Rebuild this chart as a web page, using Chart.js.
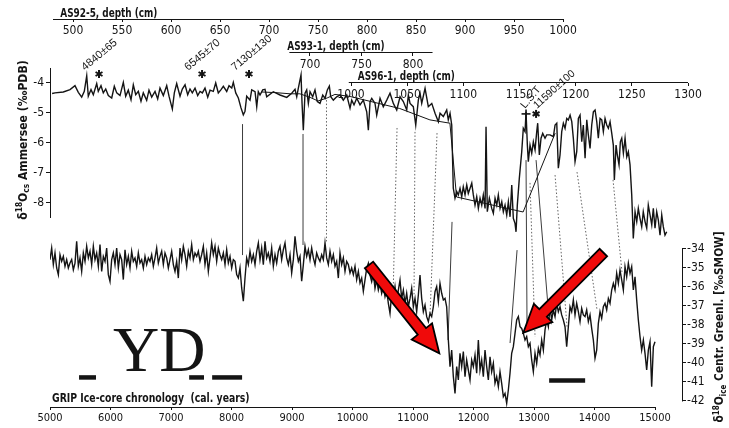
<!DOCTYPE html>
<html>
<head>
<meta charset="utf-8">
<script src="https://cdn.jsdelivr.net/npm/chart.js@4.4.1/dist/chart.umd.min.js"></script>
<style>
  html, body { margin: 0; padding: 0; background: #fff; }
  canvas { display: block; }
</style>
</head>
<body>
<canvas id="chart" width="729" height="428" style="width:729px;height:428px"></canvas>
<script>
// Ammersee d18O (permil PDB) placed on the GRIP time scale
const ammYears = [5035,5083,5220,5331,5413,5468,5524,5567,5607,5633,5678,5716,5772,5798,5843,5881,5921,5964,6020,6063,6103,
  6157,6212,6251,6294,6339,6377,6417,6460,6504,6542,6598,6636,6681,6736,6780,6818,6873,6929,6967,7022,
  7055,7094,7149,7187,7232,7276,7314,7352,7397,7441,7480,7518,7562,7607,7645,7699,7739,7782,7827,7865,
  7921,7959,8004,8030,8070,8113,8157,8195,8223,8251,
  8306,8334,8389,8417,8443,8471,8516,8554,8582,8691,8802,8913,8995,9050,9078,9104,9149,9166,9187,9215,
  9243,9270,9298,9342,9380,9418,9463,9508,9546,9584,9617,9640,9683,9739,9794,9848,9904,9959,9987,10025,
  10070,10124,10179,10235,10262,10290,10318,10372,10400,10455,10509,10566,10620,10675,10731,10786,10840,10896,10923,10951,
  11005,11045,11088,11116,11144,11199,11253,11310,11364,11419,11447,11501,11557,11583,11612,11640,
  11666,11694,11722,11749,11777,11805,11831,11860,11888,11914,11943,11971,11997,12025,12053,12080,12108,12136,12162,12191,
  12207,12228,12262,12301,12328,12356,12384,12410,12439,12467,12493,12521,12549,12576,12604,12632,12658,12686,12703,
  12724,12757,12797,12823,12852,12868,12890,12906,12934,12962,12989,13017,13045,13061,13088,13116,13144,13182,13210,13265,
  13320,13348,13376,13402,13430,13458,13485,13513,13541,13567,13596,13624,13650,13678,13706,13733,13761,13789,13815,13844,
  13872,13898,13926,13954,13981,14009,14037,14063,14092,14120,14146,14174,14202,14229,14257,14285,14311,14328,14356,14377,
  14405,14427,14450,14477,14505,14533,14559,14587,14615,
  14641,14670,14698,14724,14752,14780,14806,14835,14863,14889,14918,14946,14972,15000,15028,15055,15083,15111,15137,15165,15193];
const ammValues = [-4.35,-4.33,-4.30,-4.22,-4.09,-4.31,-4.47,-4.28,-3.76,-4.44,-4.22,-4.39,-4.02,-4.28,-4.09,-4.33,-4.20,-4.42,-4.50,-4.11,-4.33,
  -4.42,-3.98,-4.44,-4.24,-4.56,-4.06,-4.39,-4.28,-4.61,-4.33,-4.58,-4.24,-4.47,-4.28,-4.53,-4.17,-4.42,-4.09,-4.44,-4.87,
  -4.33,-4.02,-4.44,-4.20,-4.06,-4.39,-4.20,-4.33,-4.17,-4.42,-4.28,-4.33,-4.17,-4.47,-4.24,-4.28,-4.00,-4.33,-4.22,-4.11,
  -4.28,-4.09,-4.17,-3.98,-4.33,-4.50,-4.83,-5.06,-4.94,-4.44,
  -4.57,-4.23,-4.29,-4.79,-4.29,-4.40,-4.23,-4.21,-4.46,-4.29,-4.40,-4.48,-4.34,-4.21,-4.46,-4.18,-3.73,-4.68,-5.57,-4.34,
  -4.23,-4.68,-4.29,-4.46,-4.23,-4.62,-4.68,-4.40,-4.51,-4.23,-4.10,-4.46,-4.57,-4.46,-4.40,-4.57,-4.40,-4.84,-4.57,-4.73,
  -4.51,-4.73,-4.57,-4.96,-5.57,-4.62,-4.51,-4.68,-5.07,-4.51,-4.79,-4.57,-4.34,-4.68,-4.90,-4.46,-4.62,-4.90,-4.40,-4.68,
  -4.79,-5.40,-4.57,-4.34,-4.68,-4.18,-4.79,-4.68,-5.01,-5.29,-5.01,-5.12,-4.90,-5.23,-5.01,-5.40,
  -7.51,-7.84,-7.62,-7.73,-7.51,-7.79,-7.46,-7.73,-7.40,-7.68,-7.51,-7.34,-7.73,-8.07,-7.79,-8.18,-7.84,-8.07,-7.73,-8.18,
  -5.46,-8.29,-7.84,-8.18,-8.34,-7.84,-8.07,-7.73,-8.18,-7.96,-8.29,-8.07,-8.40,-7.96,-8.46,-7.40,-8.51,-8.68,-8.96,
  -8.07,-7.18,-6.29,-5.51,-5.62,-4.96,-6.07,-6.62,-6.07,-6.34,-5.96,-6.23,-5.62,-5.34,-6.40,-5.84,-5.68,-5.84,-5.73,-5.73,
  -5.79,-5.40,-5.34,-6.84,-6.40,-5.62,-5.34,-5.51,-5.18,-5.23,-5.07,-5.29,-5.84,-6.62,-6.29,-5.18,-5.07,-5.96,-5.40,-6.51,
  -5.23,-5.73,-6.18,-5.40,-4.96,-4.90,-5.29,-5.84,-5.18,-5.23,-5.62,-5.18,-5.40,-5.51,-5.29,-5.68,-6.07,-7.23,-6.07,-6.40,
  -6.73,-5.96,-5.84,-6.34,-5.84,-6.46,-6.29,-6.73,-7.73,
  -9.18,-8.29,-8.62,-8.18,-8.51,-8.79,-8.29,-8.62,-8.84,-8.07,-8.40,-8.73,-8.18,-8.84,-8.29,-8.57,-9.07,-8.40,-8.79,-9.07,-8.96];

// coarser AS93-1 record drawn on top
const as93Years = [8500,8720,8970,9130,9300,9430,9580,9710,9960,10780,11280,11610,11720,12820,13350];
const as93Values = [-4.30,-4.32,-4.36,-4.36,-4.48,-4.60,-4.50,-4.38,-4.45,-4.85,-5.23,-5.34,-7.80,-8.30,-5.67];

// GRIP d18O ice (permil SMOW), evenly spaced from 5000 to 15000 cal. years
const GRIP_FIRST = 5000, GRIP_LAST = 15000;
const gripIce = [-34.56,-33.95,-34.82,-34.21,-35.00,-35.35,-34.30,-34.65,-34.39,-34.91,
  -34.56,-35.00,-34.74,-34.56,-35.09,-34.74,-33.60,-34.91,-34.47,-35.18,
  -34.21,-34.65,-33.86,-34.47,-34.12,-34.82,-33.86,-34.56,-34.21,-34.91,
  -33.77,-35.18,-34.39,-34.65,-33.95,-35.35,-35.70,-34.56,-34.21,-34.82,
  -33.95,-35.00,-34.30,-34.56,-35.61,-34.04,-34.82,-34.39,-35.00,-34.12,
  -34.65,-34.47,-34.91,-34.21,-34.74,-34.56,-35.00,-34.39,-34.82,-34.47,
  -34.65,-34.30,-34.91,-34.47,-33.95,-34.74,-34.39,-34.12,-34.82,-34.21,
  -34.47,-35.00,-34.56,-34.12,-34.82,-35.18,-34.65,-35.53,-33.95,-34.56,
  -33.86,-34.30,-34.91,-34.12,-34.47,-33.77,-34.56,-34.21,-34.39,-34.12,
  -34.65,-34.30,-33.86,-34.82,-34.21,-35.18,-34.47,-33.68,-34.30,-33.86,
  -34.65,-33.95,-34.30,-34.56,-34.21,-34.82,-34.04,-34.74,-34.39,-35.00,
  -34.56,-34.65,-35.35,-35.53,-35.00,-36.05,-36.75,-35.53,-34.47,-34.82,
  -34.12,-34.65,-34.30,-34.82,-34.12,-33.68,-34.56,-33.95,-34.82,-33.60,
  -34.47,-34.21,-34.65,-33.95,-34.91,-34.30,-34.74,-34.12,-33.86,-34.56,
  -34.04,-33.68,-34.47,-34.82,-34.30,-35.26,-34.56,-33.33,-34.12,-34.65,
  -34.39,-35.70,-34.82,-33.86,-34.39,-34.04,-34.56,-33.95,-34.47,-34.82,
  -34.21,-34.47,-34.65,-34.30,-34.56,-33.68,-34.47,-34.82,-34.12,-34.65,
  -34.30,-34.91,-34.65,-35.53,-34.21,-34.82,-34.47,-35.18,-34.65,-34.82,
  -35.26,-35.00,-35.35,-34.91,-35.61,-35.18,-35.79,-35.53,-36.23,
  -35.63,-35.02,-34.75,-35.37,-35.72,-35.28,-36.07,-35.63,-36.16,-35.81,
  -36.33,-35.98,-36.51,-36.16,-36.86,-37.39,-36.33,-36.60,-35.98,-36.77,
  -36.16,-35.63,-36.60,-36.16,-36.86,-36.33,-37.04,-36.60,-36.07,-37.04,
  -36.60,-37.30,-36.42,-35.37,-36.60,-37.30,-36.95,-37.56,-37.82,-37.39,
  -37.56,-37.04,-36.25,-35.98,-36.77,-35.81,-36.33,-36.68,-36.60,-37.04,
  -38.79,-40.19,-39.32,-40.72,-41.60,-40.19,-40.89,-39.49,-40.19,-39.40,
  -40.72,-39.84,-40.37,-40.89,-39.84,-40.19,-39.58,-40.54,-38.79,-40.37,
  -39.84,-40.72,-39.32,-40.19,-40.89,-39.67,-40.46,-40.02,-41.07,-40.72,
  -41.25,-40.46,-41.07,-41.77,-41.60,-42.12,-41.42,-40.54,-39.49,-39.14,
  -38.44,-37.74,-37.56,-38.09,-38.18,-38.44,-38.79,-38.61,-39.14,-38.96,
  -39.84,-40.46,-39.49,-40.02,-39.23,-39.58,-38.79,-39.32,-38.26,-37.74,
  -38.09,-37.04,-37.74,-37.21,-37.56,-36.86,-37.30,-37.04,-37.47,-37.74,
  -38.09,-39.14,-38.09,-37.04,-37.30,-36.68,-37.47,-36.86,-37.30,-37.82,
  -37.12,-37.47,-37.56,-37.21,-37.82,-37.47,-38.18,-38.79,-39.75,-39.32,
  -37.91,-37.30,-37.65,-37.04,-36.86,-37.21,-36.60,-36.86,-36.16,-35.81,
  -36.16,-35.28,-35.81,-35.11,-35.63,-36.16,-34.93,-35.46,-34.75,-35.28,
  -34.93,-36.16,-35.46,-36.68,-37.74,-38.61,-39.32,-38.79,-39.49,-40.37,
  -39.32,-38.88,-41.25,-39.14,-38.88];
const gripYears = gripIce.map((_, i) => GRIP_FIRST + i * (GRIP_LAST - GRIP_FIRST) / (gripIce.length - 1));

// tick labels
const gripTicks = [5000,6000,7000,8000,9000,10000,11000,12000,13000,14000,15000];
const ammTicks = [-4,-5,-6,-7,-8];
const iceTicks = [-34,-35,-36,-37,-38,-39,-40,-41,-42];
const as92Ticks = [500,550,600,650,700,750,800,850,900,950,1000];
const as93Ticks = [700,750,800];
const as96Ticks = [1000,1050,1100,1150,1200,1250,1300];

// tie lines between the two records (top end on Ammersee, bottom end on GRIP)
const tieYearTop = [8182,9182,9570,10736,11033,11397,11645,12720,12868,12934,13034,13348,13711,14306];
const tieAmm = [-5.37,-5.70,-4.57,-5.50,-5.63,-5.67,-8.63,-9.57,-6.57,-7.33,-6.57,-7.07,-6.97,-7.23];
const tieYearBottom = [8182,9182,9570,10670,11017,11281,11579,12604,12885,13017,13232,13546,14042,14455];
const tieIce = [-34.32,-33.79,-33.60,-36.58,-36.47,-37.53,-38.79,-38.95,-38.26,-38.63,-37.05,-38.10,-37.21,-35.26];
const tieDotted = [0,0,1,1,1,1,0,0,0,1,0,1,1,1];

// dated levels
const datedYears = [5810,7513,8289];
const datedLabels = ['4840\u00b165','6545\u00b170','7130\u00b1130'];
const lstYear = 12868, lstDatedYear = 13034, markLevel = -3.7, lstLevel = -5.03;

// cold-event bars and arrows
const coldBarStart = [5480,7300,7680,13250];
const coldBarEnd = [5760,7545,8175,13845];
const coldBarLevel = [-40.76,-40.76,-40.76,-40.92];
const arrowTail = [[10273,-34.84],[14146,-34.19]];
const arrowTip = [[11435,-39.49],[12823,-38.41]];

const INK = '#141414';
const NARROW = '"Liberation Sans Narrow", "Arial Narrow", "DejaVu Sans Condensed", sans-serif';
const SANS = '"Liberation Sans", Arial, sans-serif';

function fixedTicks(list) {
  return function(scale) { scale.ticks = list.map(v => ({ value: v })); };
}

function depthAxis(list, min, max, posValue) {
  return {
    type: 'linear', axis: 'x', position: { yL: posValue }, min: min, max: max,
    afterBuildTicks: fixedTicks(list),
    border: { display: false },
    grid: { drawOnChartArea: false, drawTicks: true, tickLength: 3, color: INK },
    ticks: { autoSkip: false, maxRotation: 0, padding: 1.5, color: INK,
             font: { family: NARROW, size: 12 }, callback: v => String(v) }
  };
}

function seg(ctx, x1, y1, x2, y2) {
  ctx.beginPath(); ctx.moveTo(x1, y1); ctx.lineTo(x2, y2); ctx.stroke();
}
const align = p => Math.round(p - 0.5) + 0.5;

// plain text squeezed horizontally, left edge at (x, y)
function narrowText(ctx, text, x, y, font, sx) {
  ctx.save();
  ctx.translate(x, y);
  ctx.scale(sx, 1);
  ctx.font = font;
  ctx.textAlign = 'left';
  ctx.textBaseline = 'alphabetic';
  ctx.fillText(text, 0, 0);
  ctx.restore();
}

// text with super/subscripts, centred on (cx, cy), rotated and squeezed
function richText(ctx, parts, cx, cy, size, rot, sx) {
  const fontOf = p => 'bold ' + (p.sup || p.sub ? size * 0.68 : size) + 'px ' + NARROW;
  let w = 0;
  parts.forEach(p => { ctx.font = fontOf(p); w += ctx.measureText(p.t).width; });
  ctx.save();
  ctx.translate(cx, cy);
  ctx.rotate(rot);
  ctx.scale(sx, 1);
  ctx.textBaseline = 'alphabetic';
  ctx.textAlign = 'left';
  let x = -w / 2;
  parts.forEach(p => {
    ctx.font = fontOf(p);
    const dy = p.sup ? -size * 0.38 : (p.sub ? size * 0.22 : 0);
    ctx.fillText(p.t, x, size * 0.35 + dy);
    x += ctx.measureText(p.t).width;
  });
  ctx.restore();
}

function tilted(ctx, text, x, y, deg, font) {
  ctx.save();
  ctx.translate(x, y);
  ctx.rotate(-deg * Math.PI / 180);
  ctx.font = font;
  ctx.textAlign = 'left';
  ctx.textBaseline = 'alphabetic';
  ctx.fillText(text, 0, 0);
  ctx.restore();
}

function star(ctx, x, y, r) {
  ctx.save();
  ctx.lineWidth = 2;
  for (let k = 0; k < 3; k++) {
    const t = Math.PI / 2 + k * Math.PI / 3;
    seg(ctx, x - r * Math.cos(t), y - r * Math.sin(t), x + r * Math.cos(t), y + r * Math.sin(t));
  }
  ctx.restore();
}

function arrow(ctx, tx, ty, px, py) {
  const len = Math.hypot(px - tx, py - ty);
  const ux = (px - tx) / len, uy = (py - ty) / len;
  const nx = -uy, ny = ux;
  const w = 5.3, hw = 13, hl = 28;
  const bx = px - ux * hl, by = py - uy * hl;
  ctx.beginPath();
  ctx.moveTo(tx + nx * w, ty + ny * w);
  ctx.lineTo(bx + nx * w, by + ny * w);
  ctx.lineTo(bx + nx * hw, by + ny * hw);
  ctx.lineTo(px, py);
  ctx.lineTo(bx - nx * hw, by - ny * hw);
  ctx.lineTo(bx - nx * w, by - ny * w);
  ctx.lineTo(tx - nx * w, ty - ny * w);
  ctx.closePath();
  ctx.fillStyle = '#f00a0a';
  ctx.fill();
  ctx.lineWidth = 1.8;
  ctx.lineJoin = 'miter';
  ctx.strokeStyle = '#000';
  ctx.stroke();
}

const decor = {
  id: 'decor',
  beforeDatasetsDraw(chart) {
    const { ctx, scales: s } = chart;
    ctx.save();
    ctx.strokeStyle = '#3c3c3c';
    tieYearTop.forEach((yr, i) => {
      ctx.lineWidth = tieDotted[i] ? 0.8 : 1;
      ctx.setLineDash(tieDotted[i] ? [1.5, 2] : []);
      seg(ctx, s.x.getPixelForValue(yr), s.yL.getPixelForValue(tieAmm[i]),
        s.x.getPixelForValue(tieYearBottom[i]), s.yR.getPixelForValue(tieIce[i]));
    });
    ctx.restore();
  },
  afterDraw(chart) {
    const { ctx, chartArea: a, scales: s } = chart;
    ctx.save();
    ctx.strokeStyle = INK;
    ctx.fillStyle = INK;
    ctx.lineWidth = 1;

    // axis lines
    seg(ctx, s.x.getPixelForValue(5000), align(a.bottom), s.x.getPixelForValue(15000), align(a.bottom));
    seg(ctx, align(a.left), s.yL.getPixelForValue(-3.5), align(a.left), s.yL.getPixelForValue(-8.5));
    seg(ctx, align(a.right), s.yR.getPixelForValue(-34) - 0.5, align(a.right), s.yR.getPixelForValue(-42) + 0.5);
    const tops = [['as92', -1.8667, 479.6, 1000, 487, 'AS92-5, depth (cm)'],
                  ['as93', -3.0, 680, 819, 678, 'AS93-1, depth (cm)'],
                  ['as96', -4.0, 998, 1300, 1006, 'AS96-1, depth (cm)']];
    tops.forEach(t => {
      const y = align(s.yL.getPixelForValue(t[1]));
      seg(ctx, s[t[0]].getPixelForValue(t[2]), y, s[t[0]].getPixelForValue(t[3]), y);
      narrowText(ctx, t[5], s[t[0]].getPixelForValue(t[4]), y - 3, 'bold 11.5px ' + NARROW, 0.86);
    });

    // axis titles
    narrowText(ctx, 'GRIP Ice-core chronology  (cal. years)', s.x.getPixelForValue(5000) + 2, a.bottom - 5,
      'bold 11.5px ' + NARROW, 0.9);
    richText(ctx, [{ t: '\u03b4' }, { t: '18', sup: 1 }, { t: 'O' }, { t: 'cs', sub: 1 }, { t: ' Ammersee (\u2030PDB)' }],
      a.left - 28, s.yL.getPixelForValue(-5.9), 13, -Math.PI / 2, 0.93);
    richText(ctx, [{ t: '\u03b4' }, { t: '18', sup: 1 }, { t: 'O' }, { t: 'ice', sub: 1 }, { t: ' Centr. Greenl. [\u2030SMOW]' }],
      a.right + 37, s.yR.getPixelForValue(-38.1), 12.5, -Math.PI / 2, 0.94);

    // dated levels
    datedYears.forEach((yr, i) => {
      const x = s.x.getPixelForValue(yr), y = s.yL.getPixelForValue(markLevel);
      star(ctx, x, y, 4);
      tilted(ctx, datedLabels[i], x - 14, y - 3, 40, '11px ' + SANS);
    });
    const lx = s.x.getPixelForValue(lstYear), ly = s.yL.getPixelForValue(lstLevel);
    ctx.lineWidth = 1.6;
    seg(ctx, lx - 4.5, ly, lx + 4.5, ly);
    seg(ctx, lx, ly - 4.5, lx, ly + 4.5);
    tilted(ctx, 'L.S.T', lx - 1, ly - 5, 50, '10.5px ' + SANS);
    const dx = s.x.getPixelForValue(lstDatedYear);
    star(ctx, dx, ly, 4);
    tilted(ctx, '11590\u00b1100', dx + 1, ly - 5, 42, '10.5px ' + SANS);

    // Younger Dryas label and cold-event bars
    ctx.font = '64px "Liberation Serif", "Times New Roman", serif';
    ctx.fillText('YD', s.x.getPixelForValue(6040), s.yR.getPixelForValue(-40.42));
    ctx.lineWidth = 4.5;
    coldBarStart.forEach((x0, i) => {
      const y = s.yR.getPixelForValue(coldBarLevel[i]);
      seg(ctx, s.x.getPixelForValue(x0), y, s.x.getPixelForValue(coldBarEnd[i]), y);
    });

    // red arrows
    arrowTail.forEach((t, i) => {
      arrow(ctx, s.x.getPixelForValue(t[0]), s.yR.getPixelForValue(t[1]),
        s.x.getPixelForValue(arrowTip[i][0]), s.yR.getPixelForValue(arrowTip[i][1]));
    });
    ctx.restore();
  }
};

const lineStyle = { borderColor: INK, pointRadius: 0, tension: 0, fill: false, xAxisID: 'x' };

new Chart(document.getElementById('chart'), {
  type: 'line',
  data: {
    datasets: [
      Object.assign({ data: ammYears.map((x, i) => ({ x: x, y: ammValues[i] })), borderWidth: 1.4, yAxisID: 'yL' }, lineStyle),
      Object.assign({ data: as93Years.map((x, i) => ({ x: x, y: as93Values[i] })), borderWidth: 1, yAxisID: 'yL' }, lineStyle),
      Object.assign({ data: gripYears.map((x, i) => ({ x: x, y: gripIce[i] })), borderWidth: 1.4, yAxisID: 'yR' }, lineStyle)
    ]
  },
  options: {
    responsive: false,
    animation: false,
    events: [],
    layout: { padding: { top: 19, left: 0, right: 0, bottom: 0 } },
    plugins: { legend: { display: false }, tooltip: { enabled: false } },
    scales: {
      x: {
        type: 'linear', position: 'bottom', min: 5000, max: 15446,
        afterBuildTicks: fixedTicks(gripTicks),
        afterFit: scale => { scale.height = 21; },
        border: { display: false },
        grid: { drawOnChartArea: false, tickLength: 3, color: INK },
        ticks: { autoSkip: false, maxRotation: 0, padding: 2, color: INK,
                 font: { family: NARROW, size: 11 }, callback: v => String(v) }
      },
      yL: {
        type: 'linear', axis: 'y', position: 'left', min: -14.8, max: -1.8667,
        afterBuildTicks: fixedTicks(ammTicks),
        afterFit: scale => { scale.width = 50; },
        border: { display: false },
        grid: { drawOnChartArea: false, tickLength: 4, color: INK },
        ticks: { padding: 2, color: INK, font: { family: NARROW, size: 12 }, callback: v => String(v) }
      },
      yR: {
        type: 'linear', axis: 'y', position: 'right', min: -42.316, max: -21.895,
        afterBuildTicks: fixedTicks(iceTicks),
        afterFit: scale => { scale.width = 47; },
        border: { display: false },
        grid: { drawOnChartArea: false, tickLength: 4, color: INK },
        ticks: { padding: 1, color: INK, font: { family: NARROW, size: 12 }, callback: v => String(v) }
      },
      as92: depthAxis(as92Ticks, 476.53, 1121.4, -1.8667),
      as93: depthAxis(as93Ticks, 447.6, 1061.2, -3.0),
      as96: depthAxis(as96Ticks, 732.05, 1294.65, -4.0)
    }
  },
  plugins: [decor]
});
</script>
</body>
</html>
